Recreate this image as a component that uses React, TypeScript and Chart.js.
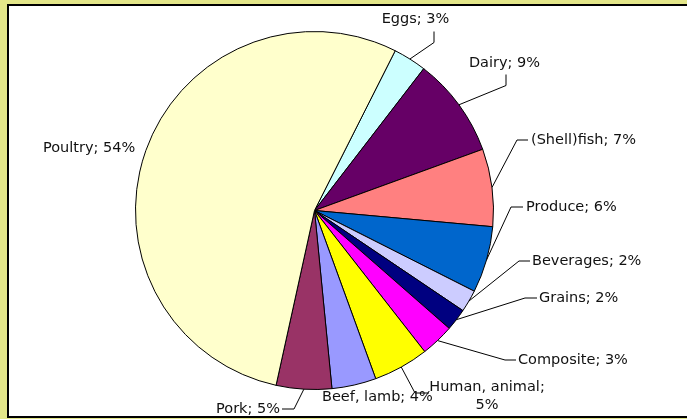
import React, { useEffect, useRef } from 'react';
import { Chart, registerables } from 'chart.js';

Chart.register(...registerables);

// ---- data ----
const categories = [
  'Eggs',
  'Dairy',
  '(Shell)fish',
  'Produce',
  'Beverages',
  'Grains',
  'Composite',
  'Human, animal',
  'Beef, lamb',
  'Pork',
  'Poultry',
];
const shares = [3, 9, 7, 6, 2, 2, 3, 5, 4, 5, 54];
const sliceColors = [
  '#CCFFFF',
  '#660066',
  '#FF8080',
  '#0066CC',
  '#CCCCFF',
  '#000080',
  '#FF00FF',
  '#FFFF00',
  '#9999FF',
  '#993366',
  '#FFFFCC',
];

// ---- label layout (offsets relative to pie centre) ----
type LabelLayout = {
  dx: number;
  dy: number;
  align: CanvasTextAlign;
  wrap?: boolean;
  path?: number[][]; // leader-line points after the arc point
};
const labelLayout: LabelLayout[] = [
  { dx: 101, dy: -191.5, align: 'center', path: [[119.5, -168], [119.5, -179]] },
  { dx: 190, dy: -147.5, align: 'center', path: [[191.5, -125], [191.5, -136]] },
  { dx: 216.5, dy: -70.5, align: 'left', path: [[202.5, -70.5], [213.5, -70.5]] },
  { dx: 211.5, dy: -3.5, align: 'left', path: [[196.5, -3.5], [208.5, -3.5]] },
  { dx: 217.5, dy: 50.5, align: 'left', path: [[204.5, 50.5], [215.5, 50.5]] },
  { dx: 224.5, dy: 87.5, align: 'left', path: [[210.5, 87.5], [222.5, 87.5]] },
  { dx: 203.5, dy: 149.5, align: 'left', path: [[190.5, 149.5], [201.5, 149.5]] },
  { dx: 172.5, dy: 176.5, align: 'center', wrap: true, path: [[100.5, 182.5], [114.5, 182.5]] },
  { dx: 7.5, dy: 186.5, align: 'left' },
  { dx: -34.5, dy: 198.5, align: 'right', path: [[-20.5, 198.5], [-32.5, 198.5]] },
  { dx: -271.5, dy: -62.5, align: 'left' },
];

const FONT = '14.5px "DejaVu Sans", Tahoma, sans-serif';

const framePlugin = {
  id: 'frame',
  beforeDraw(chart: any) {
    const { ctx, width, height } = chart;
    ctx.save();
    ctx.fillStyle = '#E3E689';
    ctx.fillRect(0, 0, width, height);
    ctx.fillStyle = '#FFFFFF';
    ctx.fillRect(8, 5, width, 412);
    ctx.strokeStyle = '#000000';
    ctx.lineWidth = 2;
    ctx.strokeRect(8, 5, width + 10, 412);
    ctx.restore();
  },
};

const labelPlugin = {
  id: 'outerLabels',
  afterDatasetsDraw(chart: any) {
    const { ctx } = chart;
    const meta = chart.getDatasetMeta(0);
    ctx.save();
    ctx.strokeStyle = '#000000';
    ctx.lineWidth = 1;
    meta.data.forEach((arc: any, i: number) => {
      const lay = labelLayout[i];
      const { x, y, startAngle, endAngle, outerRadius } = arc.getProps(
        ['x', 'y', 'startAngle', 'endAngle', 'outerRadius'],
        true
      );
      if (lay.path) {
        const mid = (startAngle + endAngle) / 2;
        ctx.beginPath();
        ctx.moveTo(x + Math.cos(mid) * outerRadius, y + Math.sin(mid) * outerRadius);
        lay.path.forEach((p) => ctx.lineTo(x + p[0], y + p[1]));
        ctx.stroke();
      }
    });
    ctx.fillStyle = '#111111';
    ctx.font = FONT;
    ctx.textBaseline = 'middle';
    meta.data.forEach((arc: any, i: number) => {
      const lay = labelLayout[i];
      const { x, y } = arc.getProps(['x', 'y'], true);
      ctx.textAlign = lay.align;
      const lines = lay.wrap
        ? [categories[i] + ';', shares[i] + '%']
        : [categories[i] + '; ' + shares[i] + '%'];
      lines.forEach((t, k) => ctx.fillText(t, x + lay.dx, y + lay.dy + k * 18));
    });
    ctx.restore();
  },
};

export default function App() {
  const ref = useRef<HTMLCanvasElement>(null);
  useEffect(() => {
    if (!ref.current) return;
    const chart = new Chart(ref.current, {
      type: 'pie',
      data: {
        labels: categories,
        datasets: [
          {
            data: shares,
            backgroundColor: sliceColors,
            borderColor: '#000000',
            borderWidth: 1,
          },
        ],
      },
      options: {
        responsive: false,
        animation: false,
        rotation: 26.8,
        layout: { padding: { left: 135, right: 193, top: 31, bottom: 29 } },
        plugins: {
          legend: { display: false },
          tooltip: { enabled: false },
        },
      },
      plugins: [framePlugin, labelPlugin],
    });
    return () => chart.destroy();
  }, []);
  return (
    <div style={{ position: 'absolute', left: 0, top: 0, width: 687, height: 419 }}>
      <canvas ref={ref} width={687} height={419} style={{ display: 'block' }} />
    </div>
  );
}
